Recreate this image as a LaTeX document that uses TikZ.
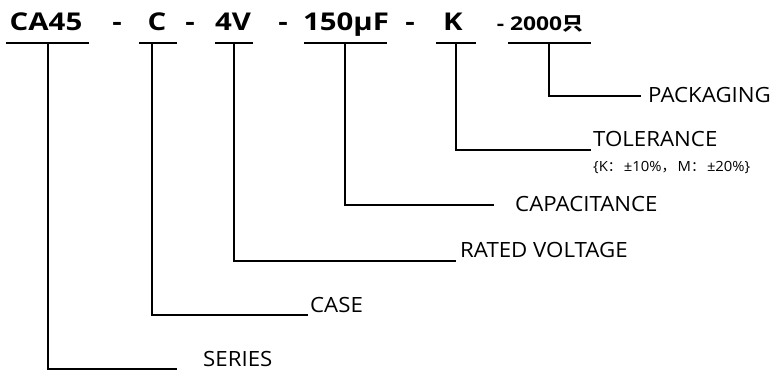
\documentclass[tikz,border=0pt]{standalone}
\usepackage{fontspec}
\setmainfont{Open Sans}
\newfontfamily\cjkfont{Noto Sans CJK SC}
\newfontfamily\bigfont[FakeStretch=1.2]{Open Sans}
\newfontfamily\bigcjk[FakeStretch=1.1]{Noto Sans CJK SC}
\newfontfamily\lblfont[FakeStretch=1.06]{Open Sans}
\begin{document}
\begin{tikzpicture}[x=1pt,y=-1pt,
  conn/.style={line width=1.6pt, line cap=rect},
  big/.style={font=\fontsize{24.5}{28}\bigfont\bfseries, anchor=base, inner sep=0pt},
  small/.style={font=\fontsize{19}{22}\bigfont\bfseries, anchor=base, inner sep=0pt},
  lbl/.style={font=\fontsize{21}{24}\lblfont, anchor=base west, inner sep=0pt},
  sub/.style={font=\fontsize{14}{16}\lblfont, anchor=base west, inner sep=0pt}]
\useasboundingbox (0,0) rectangle (771,374);
% top code
\node[big] (t1) at (46,31) {CA45};
\node[big] (d1) at (117,31) {-};
\node[big] (t2) at (157,31) {C};
\node[big] (d2) at (190,31) {-};
\node[big] (t3) at (233,31) {4V};
\node[big] (d3) at (283,31) {-};
\node[big] (t4) at (346,31) {150µF};
\node[big] (d4) at (410,31) {-};
\node[big] (t5) at (453,31) {K};
\node[small] (t6) at (540,31) {- 2000{\bigcjk\bfseries 只}};
% underlines
\draw[conn] (7,43) -- (88,43);
\draw[conn] (140,43) -- (176,43);
\draw[conn] (216,43) -- (252,43);
\draw[conn] (305,43) -- (386,43);
\draw[conn] (437,43) -- (475,43);
\draw[conn] (509,43) -- (590,43);
% labels
\node[lbl] (l6) at (648,103) {PACKAGING};
\node[lbl] (l5) at (593,147) {TOLERANCE};
\node[sub] (s5) at (593,172) {\{K{\cjkfont ：}\kern2pt±10\%{\cjkfont ，}\kern2pt M{\cjkfont ：}\kern2pt±20\%\}};
\node[lbl] (l4) at (515,212) {CAPACITANCE};
\node[lbl] (l3) at (460,257) {RATED VOLTAGE};
\node[lbl] (l2) at (310,312) {CASE};
\node[lbl] (l1) at (203,366) {SERIES};
% connectors
\coordinate (e6) at (640,96);
\coordinate (e5) at (590,150);
\coordinate (e4) at (493,205);
\coordinate (e3) at (455,261);
\coordinate (e2) at (307,315);
\coordinate (e1) at (176,369);
\draw[conn] (549,43) |- (e6);
\draw[conn] (456,43) |- (e5);
\draw[conn] (345,43) |- (e4);
\draw[conn] (234,43) |- (e3);
\draw[conn] (152,43) |- (e2);
\draw[conn] (48,43) |- (e1);
\end{tikzpicture}
\end{document}
